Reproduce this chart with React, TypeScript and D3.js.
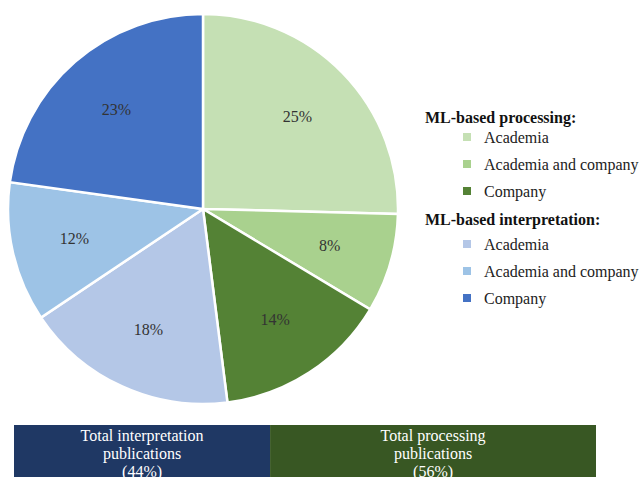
import React from "react";
import * as d3 from "d3";

const categories = ["Academia", "Academia and company", "Company", "Academia", "Academia and company", "Company"];
const groups = [0, 0, 0, 1, 1, 1];
// slice sizes (labels show rounded values)
const shares = [25.4, 8.2, 14.4, 17.6, 11.6, 22.8];
const labels = ["25%", "8%", "14%", "18%", "12%", "23%"];
const colors = ["#c5e0b4", "#a9d18e", "#548235", "#b4c7e7", "#9dc3e6", "#4472c4"];
const legendTitles = ["ML-based processing:", "ML-based interpretation:"];
const totalShares = [44, 56];
const totalLines = [
  ["Total interpretation", "publications", "(44%)"],
  ["Total processing", "publications", "(56%)"],
];
const totalColors = ["#1f3864", "#385723"];

const W = 644;
const H = 477;
const cx = 203;
const cy = 209;
const R = 195;
const font = "'Liberation Serif', 'Times New Roman', serif";

export default function App() {
  const pie = d3.pie<number>().sort(null).value((d) => d)(shares);
  const arc = d3.arc<d3.PieArcDatum<number>>().innerRadius(0).outerRadius(R);
  const labelArc = d3.arc<d3.PieArcDatum<number>>().innerRadius(132).outerRadius(132);

  // legend layout: title row, then its three items
  const titleY = [117, 219];
  const itemY = [137, 244];
  const rows: { y: number; title?: string; idx?: number }[] = [];
  legendTitles.forEach((t, g) => {
    rows.push({ y: titleY[g], title: t });
    groups.forEach((gr, i) => {
      if (gr === g) rows.push({ y: itemY[g] + (i % 3) * 27, idx: i });
    });
  });

  const bx = d3.scaleLinear().domain([0, 100]).range([14, 596]);
  const cum = [0, totalShares[0], totalShares[0] + totalShares[1]];

  return (
    <svg width={W} height={H} style={{ position: "absolute", left: 0, top: 0 }} fontFamily={font}>
      <rect width={W} height={H} fill="#fff" />
      <g transform={`translate(${cx},${cy})`}>
        {pie.map((d, i) => (
          <path key={i} d={arc(d) || ""} fill={colors[i]} stroke="#fff" strokeWidth={2.5} />
        ))}
        {pie.map((d, i) => {
          const [lx, ly] = labelArc.centroid(d);
          return (
            <text key={i} x={lx} y={ly} dy="0.35em" textAnchor="middle" fontSize={16} fill="#333">
              {labels[i]}
            </text>
          );
        })}
      </g>
      {rows.map((r, k) =>
        r.title ? (
          <text key={k} x={425} y={r.y} dy="0.35em" fontSize={16} fontWeight="bold" fill="#111">
            {r.title}
          </text>
        ) : (
          <g key={k}>
            <rect x={463} y={r.y - 4} width={8} height={8} fill={colors[r.idx!]} />
            <text x={484} y={r.y} dy="0.35em" fontSize={16} fill="#222">
              {categories[r.idx!]}
            </text>
          </g>
        )
      )}
      {totalLines.map((lines, i) => {
        const x0 = bx(cum[i]);
        const x1 = bx(cum[i + 1]);
        return (
          <g key={i}>
            <rect x={x0} y={425} width={x1 - x0} height={60} fill={totalColors[i]} />
            {lines.map((l, j) => (
              <text key={j} x={(x0 + x1) / 2} y={435 + j * 18} dy="0.35em" textAnchor="middle" fontSize={16} fill="#fff">
                {l}
              </text>
            ))}
          </g>
        );
      })}
    </svg>
  );
}
